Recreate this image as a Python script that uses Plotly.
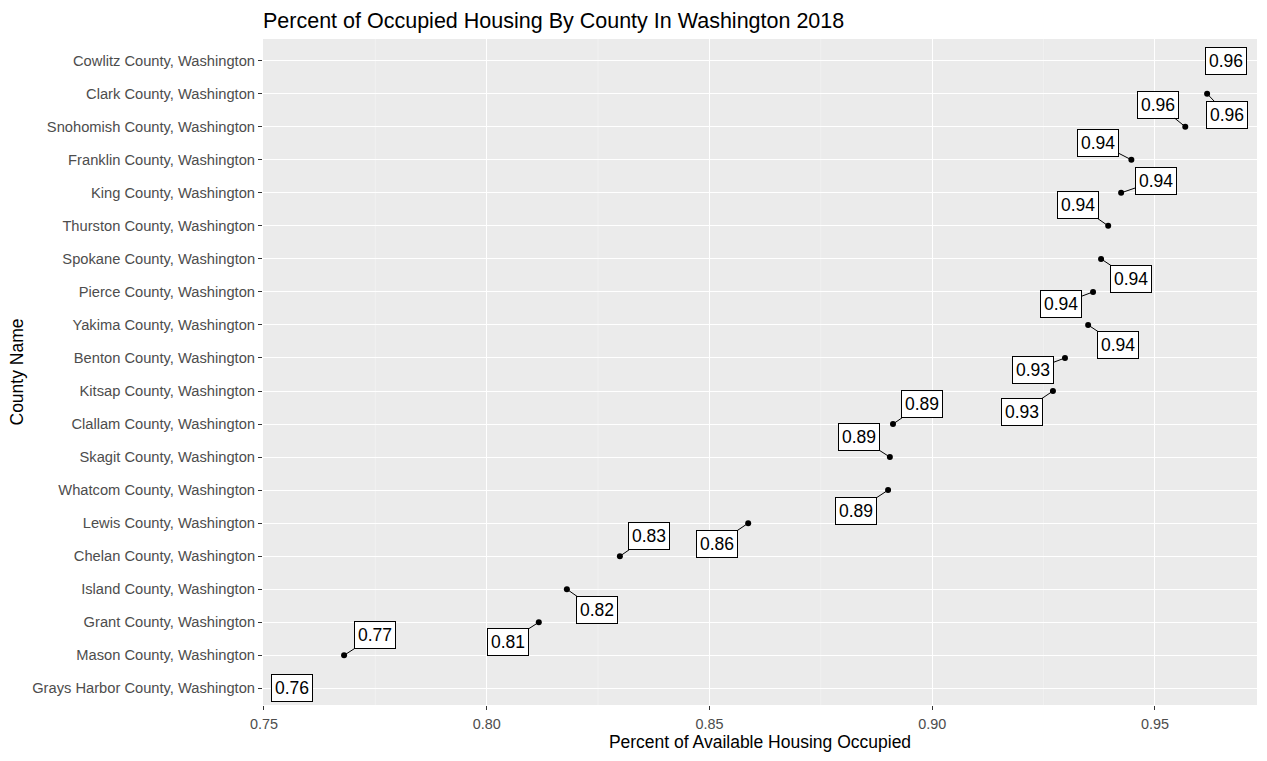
import plotly.graph_objects as go

counties = [
    "Cowlitz County, Washington", "Clark County, Washington", "Snohomish County, Washington",
    "Franklin County, Washington", "King County, Washington", "Thurston County, Washington",
    "Spokane County, Washington", "Pierce County, Washington", "Yakima County, Washington",
    "Benton County, Washington", "Kitsap County, Washington", "Clallam County, Washington",
    "Skagit County, Washington", "Whatcom County, Washington", "Lewis County, Washington",
    "Chelan County, Washington", "Island County, Washington", "Grant County, Washington",
    "Mason County, Washington", "Grays Harbor County, Washington",
]
occupied = [0.9628, 0.9617, 0.9568, 0.9447, 0.9424, 0.9395, 0.9379, 0.9361, 0.9350, 0.9298,
            0.9271, 0.8912, 0.8905, 0.8901, 0.8587, 0.8299, 0.8180, 0.8117, 0.7680, 0.7599]
# label offsets (pixels) imitating ggrepel placement
label_dx = [14, 20, -27, -33, 35, -30, 30, -32, 30, -32, -31, 29, -31, -32, -31, 29, 30, -31, 31, -16]
label_dy = [0, 21, -22, -17, -12, -21, 20, 12, 20, 12, 21, -20, -20, 21, 21, -20, 21, 20, -20, 0]

fig = go.Figure()
fig.add_trace(go.Scatter(
    x=occupied, y=counties, mode="markers",
    marker=dict(color="black", size=6), showlegend=False, hoverinfo="x+y",
))

for c, v, dx, dy in zip(counties, occupied, label_dx, label_dy):
    fig.add_annotation(
        x=v, y=c, text=f"{v:.2f}", showarrow=True, arrowhead=0, arrowwidth=1,
        arrowcolor="black", ax=dx, ay=dy, standoff=0,
        bgcolor="white", bordercolor="black", borderwidth=1, borderpad=3,
        font=dict(family="Liberation Sans, Arial", size=17.5, color="black"),
    )

grid_vals = [0.775, 0.825, 0.875, 0.925]
for g in grid_vals:
    fig.add_shape(type="line", xref="x", yref="paper", x0=g, x1=g, y0=0, y1=1,
                  line=dict(color="#F5F5F5", width=0.6), layer="below")

fig.update_layout(
    width=1267, height=761,
    margin=dict(l=263, r=10, t=39, b=56),
    paper_bgcolor="white", plot_bgcolor="#EBEBEB",
    title=dict(text="Percent of Occupied Housing By County In Washington 2018",
               x=263 / 1267, xanchor="left", y=1 - 20 / 761, yanchor="middle",
               font=dict(family="Liberation Sans, Arial", size=21.5, color="black")),
    font=dict(family="Liberation Sans, Arial"),
    xaxis=dict(
        range=[0.7498, 0.9729], tickvals=[0.75, 0.80, 0.85, 0.90, 0.95],
        ticktext=["0.75", "0.80", "0.85", "0.90", "0.95"],
        showgrid=True, gridcolor="white", gridwidth=1.2, zeroline=False,
        ticks="outside", ticklen=4, tickcolor="#333333", tickwidth=1,
        ticklabelstandoff=2,
        tickfont=dict(size=14.4, color="#4D4D4D"),
        title=dict(text="Percent of Available Housing Occupied", standoff=4,
                   font=dict(size=17.5, color="black")),
    ),
    yaxis=dict(
        categoryorder="array", categoryarray=counties[::-1],
        range=[-0.505, 19.657], showgrid=True, gridcolor="white", gridwidth=1.2,
        ticks="outside", ticklen=4, tickcolor="#333333", tickwidth=1,
        tickfont=dict(size=14.7, color="#4D4D4D"),
        title=dict(text="County Name", standoff=4, font=dict(size=17.5, color="black")),
    ),
)

fig.write_html("out.html")
